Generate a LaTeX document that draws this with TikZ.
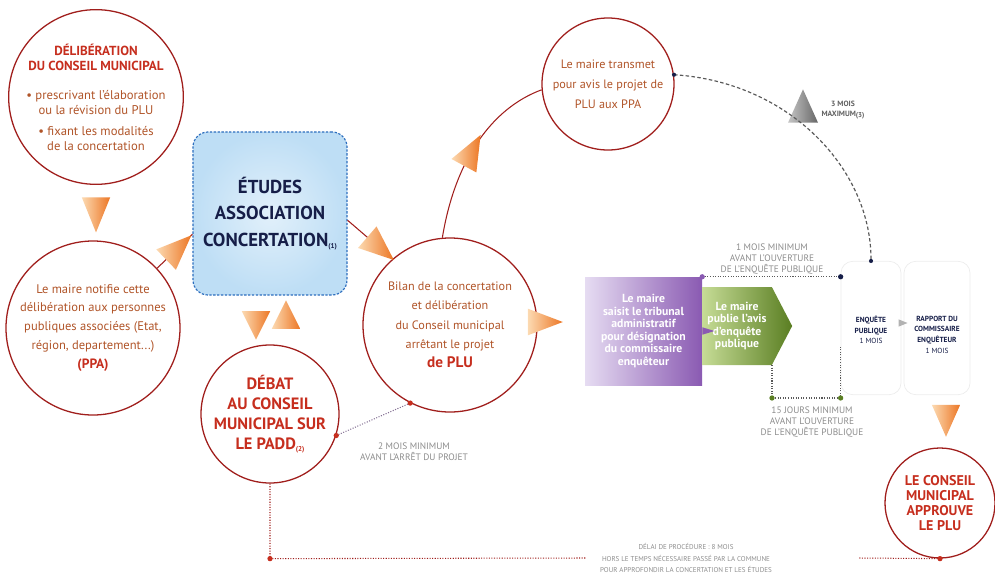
\documentclass[tikz,border=0pt]{standalone}
\usepackage{fontspec}
\setmainfont{PT Sans}
\usetikzlibrary{arrows,shapes.geometric,shapes.symbols}

\definecolor{rougecercle}{RGB}{160,30,28}
\definecolor{rougetitre}{RGB}{198,46,30}
\definecolor{brun}{RGB}{176,84,40}
\definecolor{orangefleche}{RGB}{236,118,36}
\definecolor{orangeclair}{RGB}{252,218,178}
\definecolor{bleucadre}{RGB}{45,110,190}
\definecolor{bleufond}{RGB}{190,222,245}
\definecolor{marine}{RGB}{22,30,72}
\definecolor{violetfonce}{RGB}{138,90,178}
\definecolor{violetclair}{RGB}{230,220,242}
\definecolor{vertfonce}{RGB}{90,126,34}
\definecolor{vertclair}{RGB}{198,220,150}
\definecolor{grisnote}{RGB}{140,140,140}

\newcommand{\titre}[1]{\textcolor{rougetitre}{\bfseries #1}}
\newcommand{\appel}[1]{\raisebox{-0.25ex}{\fontsize{6}{6}\selectfont(#1)}}

\tikzset{
  etape/.style={circle, draw=rougecercle, line width=1.1pt, inner sep=0pt, align=center, text=brun},
  lien/.style={rougecercle, line width=0.9pt},
  pointe/.style={isosceles triangle, isosceles triangle stretches, inner sep=0pt,
    minimum height=1.05cm, minimum width=0.85cm, left color=orangeclair, right color=orangefleche},
  pointille/.style={line width=0.9pt, dash pattern=on 0.9pt off 1.3pt},
  pastille/.style={circle, fill, inner sep=0pt, minimum size=4.5pt},
  note/.style={align=center, text=grisnote, font=\fontsize{8}{9.4}\selectfont},
  enquete/.style={rectangle, rounded corners=0.35cm, draw=gray!15, line width=0.6pt, minimum height=4cm},
  enqtexte/.style={align=center, text=marine, anchor=north, font=\fontsize{6.3}{9}\selectfont\bfseries},
}

\begin{document}
\begin{tikzpicture}[x=0.03cm, y=-0.03cm, >=latex]
\useasboundingbox (0,0) rectangle (995,581);

% etapes
\node[etape, minimum size=4.98cm, font=\fontsize{10.8}{12.8}\selectfont] (deliberation) at (96,97)
  {\titre{\fontsize{11.2}{12.8}\selectfont DÉLIBÉRATION}\\ \titre{\fontsize{11.2}{12.8}\selectfont DU CONSEIL MUNICIPAL}\\[12pt] • prescrivant l'élaboration\\ ou la révision du PLU\\[5pt] • fixant les modalités\\ de la concertation};
\node[etape, minimum size=5.22cm, font=\fontsize{10.7}{16.2}\selectfont] (notification) at (93,328)
  {Le maire notifie cette\\ délibération aux personnes\\ publiques associées (Etat,\\ région, departement...)\\ \titre{\fontsize{11.5}{14}\selectfont(PPA)}};
\node[rectangle, rounded corners=0.45cm, draw=bleucadre, line width=1pt, dash pattern=on 2pt off 1.3pt,
  inner color=white!55!bleufond, outer color=bleufond, minimum width=4.62cm, minimum height=4.89cm,
  align=center, text=marine, font=\fontsize{16}{22.5}\selectfont\bfseries] (etudes) at (270,213.5)
  {ÉTUDES\\ ASSOCIATION\\ CONCERTATION\appel{1}};
\node[etape, minimum size=4.14cm, text=rougetitre, font=\fontsize{14}{17}\selectfont\bfseries] (debat) at (270,414)
  {DÉBAT\\ AU CONSEIL\\ MUNICIPAL SUR\\ LE PADD\appel{2}};
\node[etape, minimum size=5.22cm, font=\fontsize{10.4}{16.5}\selectfont] (bilan) at (450,325)
  {Bilan de la concertation\\ et délibération\\ du Conseil municipal\\ arrêtant le projet\\ \titre{\fontsize{13}{16}\selectfont de PLU}};
\node[etape, minimum size=3.96cm, font=\fontsize{10.4}{17}\selectfont] (transmission) at (608,84)
  {Le maire transmet\\ pour avis le projet de\\ PLU aux PPA};
\node[etape, minimum size=3.3cm, text=rougetitre, font=\fontsize{12}{13}\selectfont\bfseries] (approbation) at (940,503)
  {LE CONSEIL\\ MUNICIPAL\\ APPROUVE\\ LE PLU};

% enquete publique
\node[rectangle, left color=violetclair, right color=violetfonce, minimum width=3.51cm, minimum height=3.24cm,
  align=center, text=white, font=\fontsize{10}{10.8}\selectfont\bfseries] (tribunal) at (643.5,331)
  {Le maire\\ saisit le tribunal\\ administratif\\ pour désignation\\ du commissaire\\ enquêteur};
\node[signal, signal to=east, signal pointer angle=125, left color=vertclair, right color=vertfonce,
  minimum width=2.7cm, minimum height=2.34cm, inner sep=0.5pt,
  align=center, text=white, font=\fontsize{10}{10.5}\selectfont\bfseries] (avis) at (737,326)
  {Le maire\\ publie l'avis\\ d'enquête\\ publique};
\node[isosceles triangle, isosceles triangle stretches, fill=violetfonce, inner sep=0pt,
  minimum height=0.36cm, minimum width=0.22cm, anchor=west] (jonction) at (tribunal.east) {};
\node[enquete, minimum width=1.8cm] (enq) at (871,328) {};
\node[enquete, minimum width=1.98cm] (rapport) at (937,328) {};
\node[enqtexte] (enqtxt) at (871,312) {ENQUÊTE\\ PUBLIQUE\\ \mdseries 1 MOIS};
\node[enqtexte] (rapporttxt) at (937,312) {RAPPORT DU\\ COMMISSAIRE\\ ENQUÊTEUR\\ \mdseries 1 MOIS};
\node[isosceles triangle, isosceles triangle stretches, fill=gray!60, inner sep=0pt,
  minimum height=0.27cm, minimum width=0.22cm] (sens) at (901,323) {};

% fleches
\node[pointe, rotate=-90] (f1) at (96,207) {};
\node[pointe, rotate=-90, minimum height=0.85cm] (f3a) at (256,320) {};
\node[pointe, rotate=90, minimum height=0.85cm] (f3b) at (286,320) {};
\node[pointe, minimum width=0.8cm] (f6) at (537,322) {};
\node[pointe, rotate=-90, minimum height=0.96cm] (f7) at (946,414) {};
\node[pointe, rotate=90, left color=gray!45, right color=gray!80!black, minimum height=1cm, minimum width=0.9cm] (f8) at (803,113) {};

\draw[lien] (notification.43) -- node[pointe, sloped, allow upside down, pos=0.45] (f2) {} (etudes.195);
\draw[lien] (etudes.-5) -- node[pointe, sloped, allow upside down, pos=0.6] (f4) {} (bilan.131);
\draw[lien] (bilan.95) .. controls (455,160) and (492,108) .. node[pointe, sloped, allow upside down, pos=0.4] (f5) {} (transmission.185);

% delais
\draw[pointille, gray!60!violetfonce] (bilan.-117) -- (debat.-18);
\node[pastille, fill=rougetitre] (d1) at (bilan.-117) {};
\node[pastille, fill=rougetitre] (d2) at (debat.-18) {};
\node[note] (note2) at (414,452) {2 MOIS MINIMUM\\ AVANT L'ARRÊT DU PROJET};

\draw[gray!70!black, line width=1pt, dash pattern=on 3pt off 2pt] (transmission.8) .. controls (790,82) and (872,170) .. (enq.north);
\node[pastille, fill=marine, minimum size=3.5pt] (d3) at (transmission.8) {};
\node[pastille, fill=marine, minimum size=3.5pt] (d4) at (enq.north) {};
\node[note, text=gray!75!black, font=\fontsize{6.5}{9}\selectfont\bfseries] (note3) at (843,110) {3 MOIS\\ MAXIMUM\appel{3}};

\draw[pointille, gray!70!black] (tribunal.north east) -- (tribunal.north east -| enq.west);
\node[pastille, fill=violetfonce] (d5) at (tribunal.north east) {};
\node[pastille, fill=marine] (d6) at (tribunal.north east -| enq.west) {};
\node[note] (note1) at (772,259) {1 MOIS MINIMUM\\ AVANT L'OUVERTURE\\ DE L'ENQUÊTE PUBLIQUE};

\coordinate (g1) at (772,365);
\coordinate (g2) at (772,398);
\coordinate (g3) at (g2 -| enq.west);
\draw[pointille, gray!70!black] (g1) -- (g2) -- (g3) -- ++(0,-51);
\node[pastille, fill=vertfonce] (d7) at (g2) {};
\node[pastille, fill=vertfonce] (d8) at (g3) {};
\node[note] (note15) at (812,422) {15 JOURS MINIMUM\\ AVANT L'OUVERTURE\\ DE L'ENQUÊTE PUBLIQUE};

\node[note, font=\fontsize{6}{10.2}\selectfont] (delai) at (686,558)
  {DÉLAI DE PROCÉDURE : 8 MOIS\\ HORS LE TEMPS NÉCESSAIRE PASSÉ PAR LA COMMUNE\\ POUR APPROFONDIR LA CONCERTATION ET LES ÉTUDES};
\coordinate (c1) at (debat.south |- approbation.south);
\draw[pointille, rougecercle] (debat.south) -- (c1) -- ([xshift=-0.3cm]delai.west);
\draw[pointille, rougecercle] ([xshift=2.5cm]delai.east) -- (approbation.south);
\node[pastille, fill=rougetitre] (d9) at (c1) {};
\node[pastille, fill=rougetitre] (d10) at (approbation.south) {};
\end{tikzpicture}
\end{document}
